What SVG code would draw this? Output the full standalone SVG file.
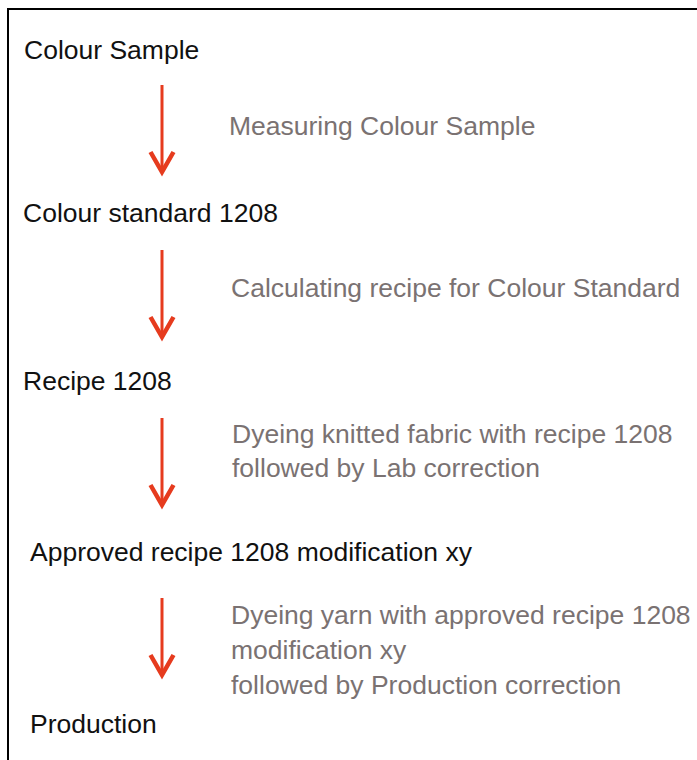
<svg xmlns="http://www.w3.org/2000/svg" width="697" height="760" viewBox="0 0 697 760">
<style>
.node{font-family:"Liberation Sans",Arial,sans-serif;font-size:26.5px;fill:#111}
.lbl{font-family:"Liberation Sans",Arial,sans-serif;font-size:26.5px;fill:#7a7272}
.arr{stroke:#e63b1e;stroke-width:3;fill:none}
.head{stroke:#e63b1e;stroke-width:4.5;fill:none;stroke-linejoin:miter;stroke-linecap:butt}
</style>
<rect width="697" height="760" fill="#fff"/>
<path d="M8,760 V9 H697" fill="none" stroke="#000" stroke-width="2"/>
<g id="n1"><text class="node" x="24" y="59">Colour Sample</text></g>
<g id="n2"><text class="node" x="23" y="222">Colour standard 1208</text></g>
<g id="n3"><text class="node" x="23" y="390">Recipe 1208</text></g>
<g id="n4"><text class="node" x="30" y="561">Approved recipe 1208 modification xy</text></g>
<g id="n5"><text class="node" x="30" y="733">Production</text></g>
<g id="connectors">
<path class="arr" d="M162,85 V173"/>
<polyline class="head" points="150.5,152 162,172 173.5,152"/>
<path class="arr" d="M162,250 V338"/>
<polyline class="head" points="150.5,317 162,337 173.5,317"/>
<path class="arr" d="M162,418 V506"/>
<polyline class="head" points="150.5,485 162,505 173.5,485"/>
<path class="arr" d="M162,598 V676"/>
<polyline class="head" points="150.5,655 162,675 173.5,655"/>
</g>
<g id="labels">
<text class="lbl" x="229" y="135">Measuring Colour Sample</text>
<text class="lbl" x="231" y="297">Calculating recipe for Colour Standard</text>
<text class="lbl" x="232" y="443">Dyeing knitted fabric with recipe 1208</text>
<text class="lbl" x="232" y="477">followed by Lab correction</text>
<text class="lbl" x="231" y="624">Dyeing yarn with approved recipe 1208</text>
<text class="lbl" x="231" y="659">modification xy</text>
<text class="lbl" x="231" y="694">followed by Production correction</text>
</g>
</svg>
